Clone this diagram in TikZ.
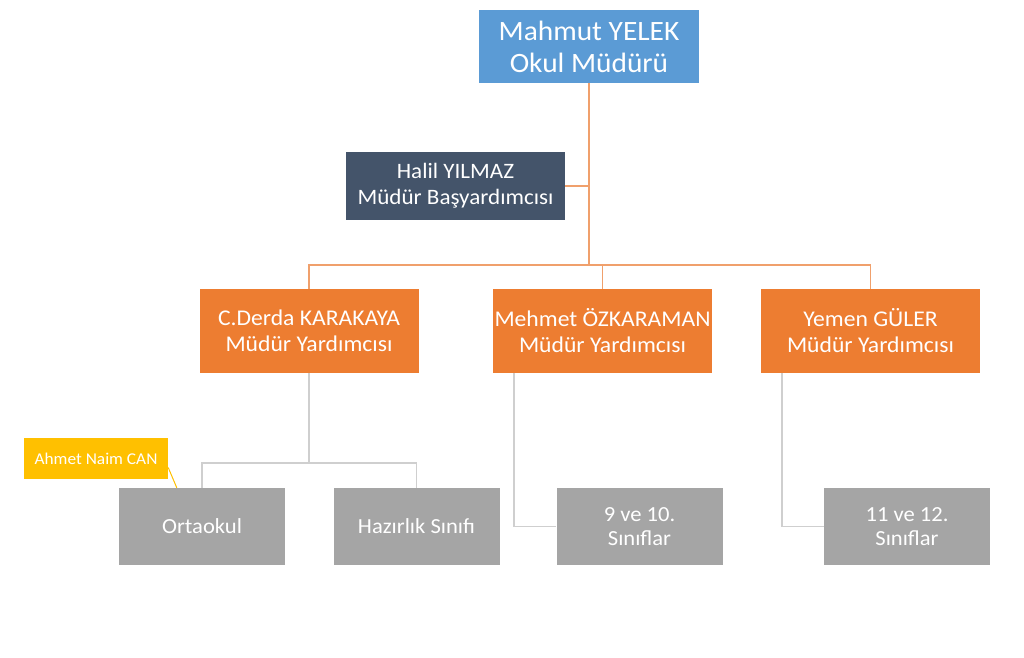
\documentclass[tikz,border=0pt]{standalone}
\usepackage{fontspec}
\setmainfont{Carlito}[FakeStretch=1.05]
\usetikzlibrary{calc}
\definecolor{headblue}{HTML}{5B9BD5}
\definecolor{slate}{HTML}{44546A}
\definecolor{deputy}{HTML}{ED7D31}
\definecolor{unitgray}{HTML}{A5A5A5}
\definecolor{notegold}{HTML}{FFC000}
\definecolor{orangeline}{HTML}{F0A06C}
\definecolor{grayline}{HTML}{CFCFCF}

\begin{document}
\begin{tikzpicture}[x=1pt,y=-1pt,
                    box/.style={rectangle,inner sep=0pt,text=white,align=center},
                    head/.style={box,fill=headblue,minimum width=220pt,minimum height=73pt,font={\fontsize{28}{32}\selectfont}},
                    chief/.style={box,fill=slate,minimum width=219pt,minimum height=68pt,font={\fontsize{22}{26}\selectfont}},
                    deputybox/.style={box,fill=deputy,minimum width=219pt,minimum height=84pt,font={\fontsize{22.5}{26}\selectfont}},
                    unit/.style={box,fill=unitgray,minimum width=166pt,minimum height=77pt,font={\fontsize{21.5}{24}\selectfont}},
                    note/.style={box,fill=notegold,minimum width=144pt,minimum height=41pt,font={\fontsize{16.5}{18}\selectfont}},
                    upper/.style={draw=orangeline,line width=1.6pt},
                    lower/.style={draw=grayline,line width=1.6pt}]
    \useasboundingbox (0,0) rectangle (1024,657);

    \node[head] (mudur) at (589,46.5) {Mahmut YELEK\\Okul Müdürü};
    \node[chief] (basyard) at (455.5,186) {Halil YILMAZ\\Müdür Başyardımcısı};

    \node[deputybox] (derda) at (309,331) {C.Derda KARAKAYA\\Müdür Yardımcısı};
    \node[deputybox] (mehmet) at (602.5,331) {Mehmet ÖZKARAMAN\\Müdür Yardımcısı};
    \node[deputybox] (yemen) at (870.5,331) {Yemen GÜLER\\Müdür Yardımcısı};

    \node[unit] (ortaokul) at (202,526.5) {Ortaokul};
    \node[unit] (hazirlik) at (416.5,526.5) {Hazırlık Sınıfı};
    \node[unit] (sinif9) at (639.5,526.5) {9 ve 10.\\Sınıflar};
    \node[unit] (sinif11) at (907,526.5) {11 ve 12.\\Sınıflar};

    \node[note] (ahmet) at (96,458.5) {Ahmet Naim CAN};

    \coordinate (bus) at (589,265);
    \coordinate (split) at (309,463);

    \draw[upper] (mudur.south) -- (bus);
    \draw[upper] (basyard.east) -- (basyard.east -| mudur.south);
    \draw[upper] (derda.north) |- (bus) -| (yemen.north);
    \draw[upper] (mehmet.north) -- (mehmet.north |- bus);

    \draw[lower] (derda.south) -- (split);
    \draw[lower] (ortaokul.north) |- (split) -| (hazirlik.north);
    \draw[lower] ($(mehmet.south west)+(21,0)$) |- (sinif9.west);
    \draw[lower] ($(yemen.south west)+(21,0)$) |- (sinif11.west);

    \draw[notegold,line width=1pt] ($(ahmet.east)+(0,9)$) -- ($(ortaokul.north west)+(58,0)$);
\end{tikzpicture}
\end{document}
